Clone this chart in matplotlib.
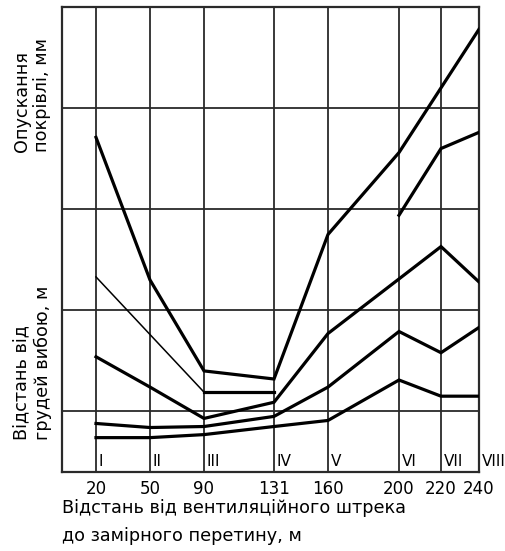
import numpy as np
import matplotlib
matplotlib.use('Agg')
import matplotlib.pyplot as plt

plt.rcParams['font.family'] = ['DejaVu Sans']

# Відстань від вентиляційного штрека (підписи) та положення перетинів на кресленні
distances = ['20', '50', '90', '131', '160', '200', '220', '240']
sections = ['I', 'II', 'III', 'IV', 'V', 'VI', 'VII', 'VIII']
xpos = [34, 88, 142, 212, 266, 337, 379, 417]

# криві (у поділках сітки), None = немає точки
curve_a = [3.71, 2.30, 1.40, 1.32, 2.75, 3.56, 4.20, 4.78]
curve_b = [None, None, None, None, None, 2.94, 3.60, 3.76]
curve_c = [2.33, None, 1.19, 1.19, None, None, None, None]
curve_d = [1.54, 1.24, 0.93, 1.09, 1.77, 2.31, 2.63, 2.28]
curve_e = [0.88, 0.84, 0.85, 0.95, 1.24, 1.79, 1.58, 1.83]
curve_f = [0.74, 0.74, 0.77, 0.85, 0.91, 1.31, 1.15, 1.15]

fig = plt.figure(figsize=(5.06, 5.51), dpi=100)
ax = fig.add_axes([62 / 506, 79 / 551, 417 / 506, 465 / 551])

ax.set_xlim(0, 417)
ax.set_ylim(0.4, 5.0)

for y in [1, 2, 3, 4]:
    ax.axhline(y, color='#2a2a2a', lw=1.3, zorder=1)
for x in xpos:
    ax.axvline(x, color='#2a2a2a', lw=1.3, zorder=1)


def pick(vals):
    xs = [xpos[i] for i, v in enumerate(vals) if v is not None]
    ys = [v for v in vals if v is not None]
    return xs, ys


for vals in [curve_a, curve_b, curve_d, curve_e, curve_f]:
    xs, ys = pick(vals)
    ax.plot(xs, ys, color='black', lw=2.3, solid_joinstyle='miter', zorder=3)

# крива C: тонка ділянка, потім товста
ax.plot([xpos[0], xpos[2]], [curve_c[0], curve_c[2]], color='black', lw=1.1, zorder=3)
ax.plot([xpos[2], xpos[3]], [curve_c[2], curve_c[3]], color='black', lw=2.3, zorder=3)

for x, s in zip(xpos, sections):
    ax.text(x + 2.5, 0.5, s, fontsize=11, ha='left', va='center', clip_on=False)

ax.set_xticks(xpos)
ax.set_xticklabels(distances, fontsize=12)
ax.set_yticks([])
ax.tick_params(axis='x', length=0, pad=5.5)
for sp in ax.spines.values():
    sp.set_linewidth(1.6)
    sp.set_color('#2a2a2a')

fig.text(32 / 506, 1 - 152 / 551, 'Опускання\nпокрівлі, мм', rotation=90,
         rotation_mode='anchor', ha='left', va='center', fontsize=12.7,
         multialignment='left', linespacing=1.2)
fig.text(32 / 506, 1 - 440 / 551, 'Відстань від\nгрудей вибою, м', rotation=90,
         rotation_mode='anchor', ha='left', va='center', fontsize=12.7,
         multialignment='left', linespacing=1.2)
fig.text(62 / 506, 1 - 522 / 551, 'Відстань від вентиляційного штрека\nдо замірного перетину, м',
         ha='left', va='center', fontsize=12.7, linespacing=1.65)

fig.savefig('out.png', dpi=100)
